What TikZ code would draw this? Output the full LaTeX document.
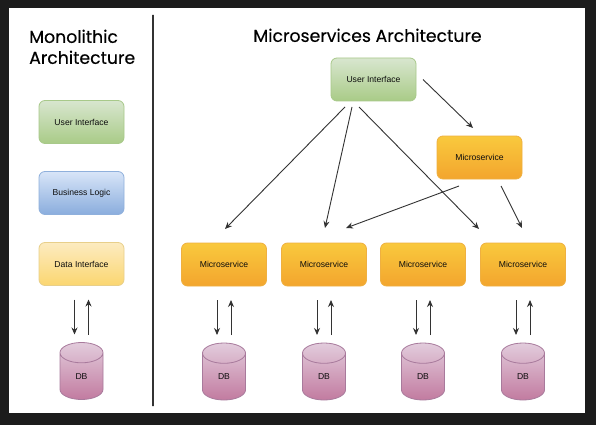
\documentclass[tikz,border=0pt]{standalone}
\usepackage{fontspec}
\setmainfont{Liberation Sans}
\newfontfamily\titlefont[FakeBold=0.35]{Poppins}
\usetikzlibrary{positioning,arrows.meta,shapes.geometric}
\definecolor{colFondo}{HTML}{1C1C1C}
\definecolor{colLinea}{HTML}{333333}
\definecolor{colGreenTop}{HTML}{D8E6CF}
\definecolor{colGreenBot}{HTML}{A9CB87}
\definecolor{colGreenEdge}{HTML}{A8C98A}
\definecolor{colBlueTop}{HTML}{D8E5F8}
\definecolor{colBlueBot}{HTML}{8AADDD}
\definecolor{colBlueEdge}{HTML}{8FB0DC}
\definecolor{colYellowTop}{HTML}{FCEBC0}
\definecolor{colYellowBot}{HTML}{FBD670}
\definecolor{colYellowEdge}{HTML}{E8CF8A}
\definecolor{colOrangeTop}{HTML}{F9C93D}
\definecolor{colOrangeBot}{HTML}{F3A52E}
\definecolor{colOrangeEdge}{HTML}{EFB040}
\definecolor{colPinkTop}{HTML}{E2CCDC}
\definecolor{colPinkBot}{HTML}{C27BA0}
\definecolor{colPinkEdge}{HTML}{A87A9C}

\begin{document}
\begin{tikzpicture}[
  font=\fontsize{8.6}{11}\selectfont,
  >={Stealth[length=7pt,width=6pt]},
  box/.style={
    rectangle, draw, rounded corners=6pt, line width=0.8pt,
    minimum width=85pt, minimum height=43pt, inner sep=0pt, outer sep=0pt,
    text=black!95
  },
  greenbox/.style={box, draw=colGreenEdge, top color=colGreenTop, bottom color=colGreenBot},
  bluebox/.style={box, draw=colBlueEdge, top color=colBlueTop, bottom color=colBlueBot},
  yellowbox/.style={box, draw=colYellowEdge, top color=colYellowTop, bottom color=colYellowBot},
  servicebox/.style={box, draw=colOrangeEdge, top color=colOrangeTop, bottom color=colOrangeBot},
  dbcyl/.style={
    cylinder, shape border rotate=90, aspect=1.7, draw=colPinkEdge, line width=0.8pt,
    minimum width=43pt, minimum height=57pt, inner sep=0pt, outer sep=0pt,
    top color=colPinkTop, bottom color=colPinkBot, text=black!95
  },
  link/.style={->, line width=0.9pt, draw=colLinea},
  heading/.style={font=\titlefont\fontsize{17.3}{21}\selectfont, text=black, inner sep=0pt}
]

  % marco
  \fill[colFondo] (0,0) rectangle (596pt,-425pt);
  \fill[white] (9pt,-8pt) rectangle (585pt,-413pt);
  \node[draw=colLinea, line width=1.5pt, minimum height=391pt, minimum width=0pt, inner sep=0pt] (divider) at (153pt,-210.5pt) {};

  % titulos
  \node[heading, align=left, anchor=north west] (monotitle) at (29pt,-29.5pt) {Monolithic\\Architecture};
  \node[heading, anchor=north] (microtitle) at (367.5pt,-28.5pt) {Microservices Architecture};

  % monolito
  \node[greenbox] (monoui) at (81.5pt,-122pt) {User Interface};
  \node[bluebox, below=28pt of monoui] (monologic) {Business Logic};
  \node[yellowbox, below=28pt of monologic] (monodata) {Data Interface};
  \node[dbcyl, below=57pt of monodata] (monodb) {\raisebox{-4pt}{DB}};

  % microservicios
  \node[greenbox] (ui) at (373.5pt,-79.5pt) {User Interface};
  \node[servicebox] (mstop) at (479.5pt,-157.5pt) {Microservice};
  \node[servicebox] (msa) at (224pt,-264.5pt) {Microservice};
  \node[servicebox, right=15pt of msa] (msb) {Microservice};
  \node[servicebox, right=14pt of msb] (msc) {Microservice};
  \node[servicebox, right=15pt of msc] (msd) {Microservice};
  \foreach \n in {a,b,c,d} {
    \node[dbcyl, below=57pt of ms\n] (db\n) {\raisebox{-4pt}{DB}};
  }

  % relaciones
  \draw[link] ([xshift=-28.5pt,yshift=-6pt]ui.south) -- ([xshift=1pt,yshift=14pt]msa.north);
  \draw[link] ([xshift=-21.5pt,yshift=-6pt]ui.south) -- ([xshift=1pt,yshift=15pt]msb.north);
  \draw[link] ([xshift=-14.5pt,yshift=-6pt]ui.south) -- ([xshift=-44pt,yshift=14pt]msd.north);
  \draw[link] ([xshift=7pt]ui.east) -- ([xshift=-6.5pt,yshift=8pt]mstop.north);
  \draw[link] ([xshift=-20.5pt,yshift=-7pt]mstop.south) -- ([xshift=22pt,yshift=15pt]msb.north);
  \draw[link] ([xshift=21.5pt,yshift=-7pt]mstop.south) -- ([xshift=-1pt,yshift=15pt]msd.north);

  \foreach \upper/\lower in {monodata/monodb,msa/dba,msb/dbb,msc/dbc,msd/dbd} {
    \draw[link] ([xshift=-7pt,yshift=-14pt]\upper.south) -- ([xshift=-7pt,yshift=8pt]\lower.north);
    \draw[link] ([xshift=7pt,yshift=8pt]\lower.north) -- ([xshift=7pt,yshift=-14pt]\upper.south);
  }

\end{tikzpicture}
\end{document}
